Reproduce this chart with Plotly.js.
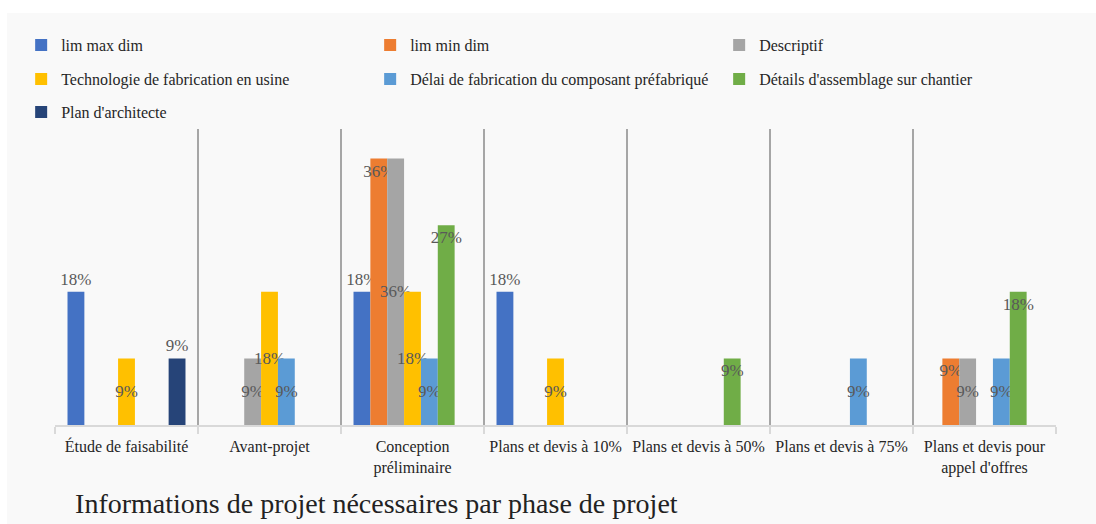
<!DOCTYPE html>
<html>
<head>
<meta charset="utf-8">
<script src="https://cdn.plot.ly/plotly-3.0.1.min.js"></script>
<style>
  html, body { margin: 0; padding: 0; background: #ffffff; }
  #chart { position: absolute; left: 7px; top: 13px; width: 1089px; height: 511px; }
</style>
</head>
<body>
<div id="chart"></div>
<script>
// Categories (project phases)
const categories = [
  "Étude de faisabilité",
  "Avant-projet",
  "Conception<br>préliminaire",
  "Plans et devis à 10%",
  "Plans et devis à 50%",
  "Plans et devis à 75%",
  "Plans et devis pour<br>appel d'offres"
];

// Series names
const seriesNames = [
  "lim max dim",
  "lim min dim",
  "Descriptif",
  "Technologie de fabrication en usine",
  "Délai de fabrication du composant préfabriqué",
  "Détails d'assemblage sur chantier",
  "Plan d'architecte"
];

// Series values (share of respondents), null = no bar
const limMaxDim      = [0.18, null, 0.18, 0.18, null, null, null];
const limMinDim      = [null, null, 0.36, null, null, null, 0.09];
const descriptif     = [null, 0.09, 0.36, null, null, null, 0.09];
const technologie    = [0.09, 0.18, 0.18, 0.09, null, null, null];
const delaiFab       = [null, 0.09, 0.09, null, null, 0.09, 0.09];
const detailsAssemb  = [null, null, 0.27, null, 0.09, null, 0.18];
const planArchitecte = [0.09, null, null, null, null, null, null];

const seriesValues = [limMaxDim, limMinDim, descriptif, technologie, delaiFab, detailsAssemb, planArchitecte];

const colors = ["#4472C4", "#ED7D31", "#A5A5A5", "#FFC000", "#5B9BD5", "#70AD47", "#264478"];
// label placement per series (as in the reference)
const labelPos = [
  {textposition: "outside"},
  {textposition: "inside", insidetextanchor: "end"},
  {textposition: "inside", insidetextanchor: "middle"},
  {textposition: "inside", insidetextanchor: "middle"},
  {textposition: "inside", insidetextanchor: "middle"},
  {textposition: "inside", insidetextanchor: "end"},
  {textposition: "outside"}
];
const legendOf = ["legend", "legend", "legend", "legend2", "legend2", "legend2", "legend3"];
const legendW  = [304, 304, 150, 304, 304, 240, 200];

const SERIF = "Liberation Serif";
function labelFont() { return {family: SERIF, size: 17, color: "#595959"}; }

const traces = seriesNames.map((name, i) => Object.assign({
  type: "bar",
  name: name,
  x: categories,
  y: seriesValues[i],
  marker: {color: colors[i]},
  texttemplate: "%{y:.0%}",
  textangle: 0,
  constraintext: "none",
  textfont: labelFont(),
  insidetextfont: labelFont(),
  outsidetextfont: labelFont(),
  cliponaxis: false,
  legend: legendOf[i],
  legendwidth: legendW[i],
  hoverinfo: "name+y"
}, labelPos[i]));

function makeLegend(yc) {
  return {
    orientation: "h",
    xref: "container", yref: "container",
    x: 0.013, xanchor: "left",
    y: yc, yanchor: "middle",
    bgcolor: "rgba(0,0,0,0)",
    font: {family: SERIF, size: 16, color: "#262626"},
    entrywidth: 304, entrywidthmode: "pixels",
    traceorder: "normal"
  };
}

const layout = {
  width: 1089, height: 511,
  font: {family: SERIF, color: "#333333"},
  paper_bgcolor: "#F9F9F9",
  plot_bgcolor: "#F9F9F9",
  margin: {l: 48, r: 40, t: 114, b: 99},
  barmode: "group",
  bargap: 0.175,
  bargroupgap: 0,
  showlegend: true,
  legend: makeLegend(0.9374),
  legend2: makeLegend(0.8708),
  legend3: makeLegend(0.8063),
  title: {
    text: "Informations de projet nécessaires par phase de projet",
    font: {family: SERIF, size: 28, color: "#222222"},
    xref: "container", yref: "container",
    x: 0.0625, xanchor: "left",
    y: 0.041, yanchor: "middle"
  },
  xaxis: {
    type: "category",
    tickson: "boundaries",
    showgrid: true,
    gridcolor: "#A6A6A6",
    gridwidth: 1.5,
    ticks: "outside",
    ticklen: 7,
    tickcolor: "#D9D9D9",
    tickwidth: 1.5,
    showline: true,
    linecolor: "#D9D9D9",
    linewidth: 1.5,
    ticklabelstandoff: 6,
    tickfont: {family: SERIF, size: 16, color: "#262626"},
    fixedrange: true
  },
  yaxis: {
    range: [0, 0.4],
    showgrid: false,
    zeroline: false,
    showline: false,
    showticklabels: false,
    ticks: "",
    fixedrange: true
  }
};

Plotly.newPlot("chart", traces, layout, {displayModeBar: false, staticPlot: true});
</script>
</body>
</html>
